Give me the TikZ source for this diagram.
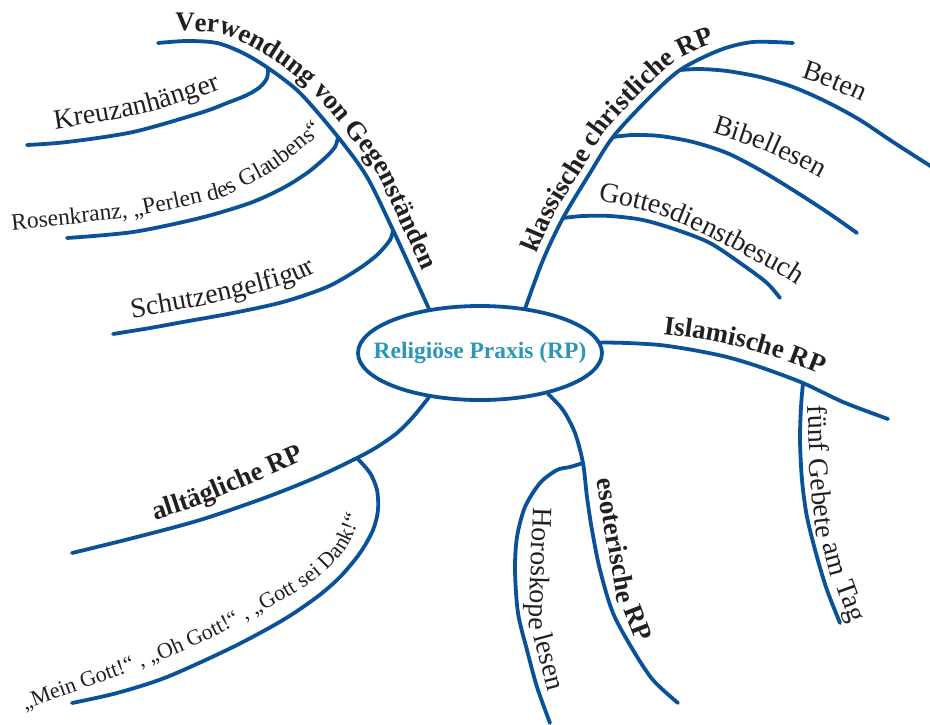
\documentclass[tikz,border=0pt]{standalone}
\usepackage{fontspec}
\setmainfont{Liberation Serif}
\usepackage{tikz}
\usetikzlibrary{shapes.geometric, decorations.text}
\definecolor{mapblue}{RGB}{10, 82, 152}
\definecolor{centerteal}{RGB}{45, 150, 182}
\definecolor{textdark}{RGB}{35, 31, 32}
\newcommand\labelreg{\fontsize{28}{32}\selectfont}
\newcommand\labelbold{\fontsize{27}{31}\selectfont\bfseries}
\newcommand\labelmid{\fontsize{23.5}{27}\selectfont}
\newcommand\labelsmall{\fontsize{22}{26}\selectfont}

\begin{document}
\begin{tikzpicture}[x=1pt, y=-1pt,
    branch/.style={draw=mapblue, line width=3.8pt, line cap=round},
    lbl/.style={decorate, decoration={text along path, text color=textdark}},
    lblat/.style={transform canvas={shift={#1}}},
    wordlbl/.style={anchor=base, inner sep=0pt, text=textdark, font=\labelreg},
    wordbold/.style={wordlbl, font=\labelbold}]
  \useasboundingbox (0,0) rectangle (930,724);

  % Mitte
  \node[ellipse, draw=mapblue, line width=3.8pt, minimum width=244pt, minimum height=94pt, inner sep=0pt] (rp) at (480,353) {};
  \node[text=centerteal, font=\fontsize{23.5}{26}\selectfont\bfseries] (rptext) at (rp.center) {Religiöse Praxis (RP)};

  % Enden und Abzweige
  \coordinate (vEnd) at (158,43);
  \coordinate (vK) at (268,68);
  \coordinate (vR) at (338,137);
  \coordinate (vS) at (393,230);
  \coordinate (kEnd) at (27,145);
  \coordinate (rEnd) at (67,238);
  \coordinate (sEnd) at (113,334);
  \coordinate (cEnd) at (793,43);
  \coordinate (cBe) at (680,70);
  \coordinate (cBi) at (613,137);
  \coordinate (cG) at (563,218);
  \coordinate (beEnd) at (932,167);
  \coordinate (biEnd) at (857,233);
  \coordinate (gEnd) at (780,298);
  \coordinate (iF) at (803,383);
  \coordinate (iEnd) at (888,419);
  \coordinate (fEnd) at (840,623);
  \coordinate (eH) at (583,463);
  \coordinate (eEnd) at (678,703);
  \coordinate (hEnd) at (550,723);
  \coordinate (aM) at (357,458);
  \coordinate (aEnd) at (72,553);
  \coordinate (mEnd) at (72,703);

  % Verwendung von Gegenstaenden
  \draw[branch] plot[smooth] coordinates {(rp.139) (410,267) (vS) (367,177) (vR) (300,93) (vK) (243,53) (217,43) (187,41) (vEnd)};
  \draw[branch] plot[smooth] coordinates {(vK) (267,78) (260,87) (247,95) (227,103) (200,113) (133,132) (67,142) (kEnd)};
  \draw[branch] plot[smooth] coordinates {(vR) (335,147) (325,158) (307,173) (283,188) (250,203) (200,218) (133,232) (rEnd)};
  \draw[branch] plot[smooth] coordinates {(vS) (390,240) (377,255) (357,270) (327,287) (283,302) (233,313) (183,322) (150,328) (sEnd)};

  % klassische christliche RP
  \draw[branch] plot[smooth] coordinates {(rp.45) (543,260) (cG) (590,173) (cBi) (647,100) (cBe) (720,50) (753,42) (cEnd)};
  \draw[branch] plot[smooth] coordinates {(cBe) (700,69) (727,71) (760,77) (793,87) (827,102) (860,120) (893,142) (beEnd)};
  \draw[branch] plot[smooth] coordinates {(cBi) (633,135) (660,136) (693,142) (727,153) (760,170) (793,190) (827,212) (biEnd)};
  \draw[branch] plot[smooth] coordinates {(cG) (583,216) (610,216) (643,220) (677,230) (710,243) (743,265) (767,283) (gEnd)};

  % Islamische RP
  \draw[branch] plot[smooth] coordinates {(rp.5) (627,343) (660,345) (693,350) (727,357) (760,367) (iF) (843,402) (iEnd)};
  \draw[branch] plot[smooth] coordinates {(iF) (801,407) (800,440) (802,480) (807,517) (817,557) (827,590) (fEnd)};

  % esoterische RP
  \draw[branch] plot[smooth] coordinates {(rp.-31) (563,410) (575,433) (eH) (587,497) (592,530) (600,570) (613,613) (633,650) (653,680) (eEnd)};
  \draw[branch] plot[smooth] coordinates {(eH) (570,467) (557,470) (540,483) (525,507) (517,537) (515,570) (518,613) (527,650) (537,687) (hEnd)};

  % alltaegliche RP
  \draw[branch] plot[smooth] coordinates {(rp.221) (413,417) (397,433) (377,447) (aM) (317,477) (267,497) (200,520) (133,538) (aEnd)};
  \draw[branch] plot[smooth] coordinates {(aM) (370,473) (377,490) (378,510) (373,530) (360,553) (340,577) (317,597) (283,620) (233,647) (167,677) (117,693) (mEnd)};

  % Beschriftungen (je ab Textanfang gesetzt)
  \begin{scope}[lblat={(175,31)}]
    \path[lbl, decoration={text={|\labelbold|Verwendung von Gegenständen}}] plot[smooth] coordinates {(0,0) (44,2) (72,13) (99,29) (132,55) (171,100) (201,141) (227,195) (244,232) (261,272) (275,314)};
  \end{scope}
  \begin{scope}[lblat={(55,129)}]
    \path[lbl, decoration={text={|\labelreg|Kreuzanhänger}}] plot[smooth] coordinates {(0,0) (45,-7) (77,-13) (105,-20) (137,-30) (157,-36) (185,-48) (210,-63)};
  \end{scope}
  \begin{scope}[lblat={(12,230)}]
    \path[lbl, decoration={text={|\labelmid|Rosenkranz, „Perlen des Glaubens“}}] plot[smooth] coordinates {(0,0) (115,-12) (136,-16) (205,-31) (225,-40) (263,-60) (301,-90) (318,-108) (333,-130)};
  \end{scope}
  \begin{scope}[lblat={(132,318)}]
    \path[lbl, decoration={text={|\labelreg|Schutzengelfigur}}] plot[smooth] coordinates {(0,0) (68,-12) (128,-26) (168,-38) (190,-50) (218,-68) (248,-93)};
  \end{scope}

  \begin{scope}[lblat={(537,254)}]
    \path[lbl, decoration={text={|\labelbold|klassische christliche RP}}] plot[smooth] coordinates {(0,0) (18,-41) (46,-86) (69,-123) (104,-161) (138,-192) (173,-209) (213,-219) (253,-222)};
  \end{scope}
  \begin{scope}[lblat={(801,78)}]
    \path[lbl, decoration={text={|\labelreg|Beten}}] plot[smooth] coordinates {(0,0) (29,10) (57,22) (89,38) (124,60)};
  \end{scope}
  \begin{scope}[lblat={(712,133)}]
    \path[lbl, decoration={text={|\labelreg|Bibellesen}}] plot[smooth] coordinates {(0,0) (48,16) (98,39) (138,62) (168,82)};
  \end{scope}
  \begin{scope}[lblat={(598,201)}]
    \path[lbl, decoration={text={|\labelreg|Gottesdienstbesuch}}] plot[smooth] coordinates {(0,0) (52,11) (102,31) (152,57) (192,79) (222,101) (252,124)};
  \end{scope}

  \begin{scope}[lblat={(663,334)}]
    \path[lbl, decoration={text={|\labelbold|Islamische RP}}] plot[smooth] coordinates {(0,0) (37,5) (77,13) (112,23) (137,32) (162,42) (197,58)};
  \end{scope}
  % fast senkrechte Texte: Wort fuer Wort
  \node[wordlbl, rotate=-88] (fw1) at (808.7,429) {fünf};
  \node[wordlbl, rotate=-84] (fw2) at (812.5,499) {Gebete};
  \node[wordlbl, rotate=-75] (fw3) at (827,561) {am};
  \node[wordlbl, rotate=-70] (fw4) at (843,604) {Tag};

  \node[wordbold, rotate=-80] (ew1) at (607,542) {esoterische};
  \node[wordbold, rotate=-69] (ew2) at (630,626) {RP};

  \node[wordlbl, rotate=-92] (hw1) at (531,569) {Horoskope};
  \node[wordlbl, rotate=-75] (hw2) at (541,664) {lesen};

  \begin{scope}[lblat={(155,520)}]
    \path[lbl, decoration={text={|\labelbold|alltägliche RP}}] plot[smooth] coordinates {(0,0) (45,-15) (95,-36) (145,-58) (175,-72) (205,-88)};
  \end{scope}
  \begin{scope}[lblat={(25,710)}]
    \path[lbl, decoration={text={|\labelsmall|„Mein Gott!“ , „Oh Gott!“ , „Gott sei Dank!“}}] plot[smooth] coordinates {(0,0) (43,-16) (136,-50) (202,-80) (284,-126) (320,-160) (337,-198) (347,-218)};
  \end{scope}
\end{tikzpicture}
\end{document}
